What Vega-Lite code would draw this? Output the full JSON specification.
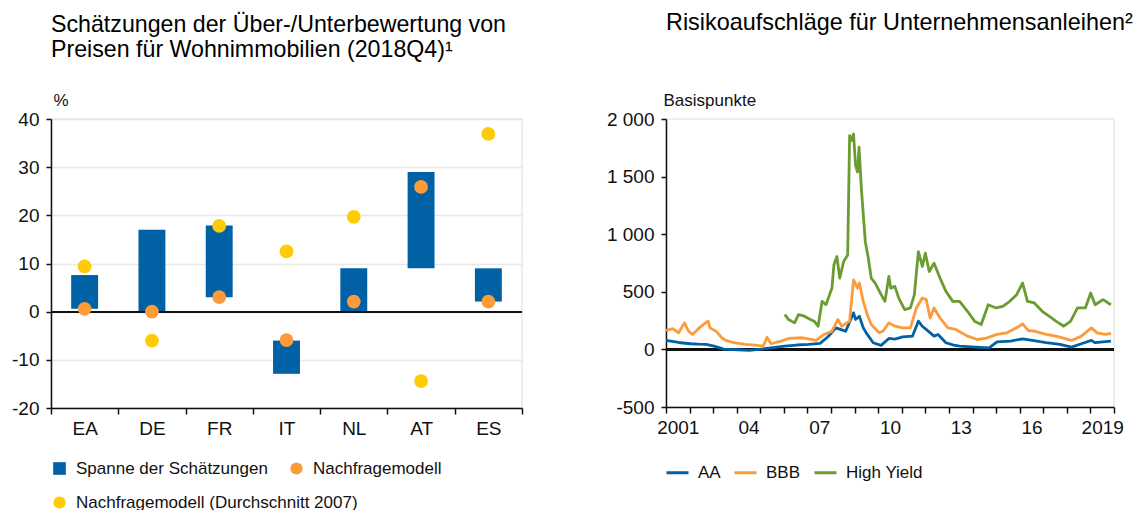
{
  "$schema": "https://vega.github.io/schema/vega-lite/v6.json",
  "padding": {"left": 10, "top": 9, "right": 0, "bottom": 0},
  "autosize": {"type": "pad"},
  "spacing": 81,
  "config": {
    "font": "Liberation Sans",
    "view": {"stroke": "#e8e8e8", "strokeWidth": 1.5},
    "axis": {
      "labelFont": "Liberation Sans", "labelFontSize": 19, "labelColor": "#111",
      "domainColor": "#111", "domainWidth": 1.5, "tickColor": "#111", "tickWidth": 1.5, "tickSize": 5,
      "gridColor": "#e8e8e8", "gridWidth": 1.5,
      "titleFont": "Liberation Sans", "titleFontSize": 17, "titleFontWeight": "normal", "titleColor": "#111"
    },
    "legend": {"labelFont": "Liberation Sans", "labelFontSize": 17, "labelColor": "#111", "labelLimit": 400},
    "title": {"font": "Liberation Sans", "fontSize": 23.2, "fontWeight": "normal", "color": "#000", "anchor": "start", "frame": "group", "lineHeight": 25}
  },
  "hconcat": [
    {
      "width": 471,
      "height": 289,
      "title": {"text": ["Schätzungen der Über-/Unterbewertung von", "Preisen für Wohnimmobilien (2018Q4)¹"], "offset": 29},
      "data": {"values": [
        {"land": "EA", "lo": 0.6, "hi": 7.6, "nm": 0.6, "nm07": 9.4},
        {"land": "DE", "lo": 0, "hi": 17.0, "nm": 0, "nm07": -6.0},
        {"land": "FR", "lo": 3.0, "hi": 17.9, "nm": 3.0, "nm07": 17.8},
        {"land": "IT", "lo": -12.9, "hi": -6.0, "nm": -5.9, "nm07": 12.5},
        {"land": "NL", "lo": 0, "hi": 9.0, "nm": 2.1, "nm07": 19.7},
        {"land": "AT", "lo": 9.0, "hi": 29.0, "nm": 25.9, "nm07": -14.4},
        {"land": "ES", "lo": 2.1, "hi": 9.0, "nm": 2.1, "nm07": 36.9}
      ]},
      "encoding": {
        "x": {"field": "land", "type": "nominal", "sort": null,
          "scale": {"paddingInner": 0, "paddingOuter": 0},
          "axis": {"title": null, "labelAngle": 0, "tickBand": "extent", "tickSize": 6, "labelPadding": 5, "grid": false}}
      },
      "layer": [
        {
          "mark": {"type": "bar", "width": {"band": 0.4}},
          "encoding": {
            "y": {"field": "lo", "type": "quantitative",
              "scale": {"domain": [-20, 40], "nice": false},
              "axis": {"values": [-20, -10, 0, 10, 20, 30, 40], "title": "%", "titleAngle": 0, "titleAlign": "left", "titleBaseline": "bottom", "titleX": 2, "titleY": -10, "labelPadding": 7, "labelExpr": "replace(format(datum.value,'d'),'−','-')"}},
            "y2": {"field": "hi"},
            "color": {"datum": "Spanne der Schätzungen", "scale": {"range": ["#0061a5"]},
              "legend": {"title": null, "orient": "none", "legendX": 0, "legendY": 341, "symbolType": "square", "symbolSize": 160, "labelOffset": 8}}
          }
        },
        {
          "mark": {"type": "rule", "color": "#111", "strokeWidth": 1.5},
          "encoding": {"y": {"datum": 0}, "x": {"value": 0}, "x2": {"value": 471}}
        },
        {
          "mark": {"type": "circle", "size": 190, "opacity": 1},
          "encoding": {
            "y": {"field": "nm07", "type": "quantitative"},
            "color": {"datum": "Nachfragemodell (Durchschnitt 2007)", "scale": {"range": ["#ffcb05"]},
              "legend": {"title": null, "orient": "none", "legendX": 0, "legendY": 375, "symbolType": "circle", "symbolSize": 150, "labelOffset": 8}}
          }
        },
        {
          "mark": {"type": "circle", "size": 190, "opacity": 1},
          "encoding": {
            "y": {"field": "nm", "type": "quantitative"},
            "color": {"datum": "Nachfragemodell", "scale": {"range": ["#fd9a3a"]},
              "legend": {"title": null, "orient": "none", "legendX": 237, "legendY": 341, "symbolType": "circle", "symbolSize": 150, "labelOffset": 8}}
          }
        }
      ],
      "resolve": {"scale": {"color": "independent"}, "legend": {"color": "independent"}}
    },
    {
      "width": 448,
      "height": 288,
      "title": {"text": "Risikoaufschläge für Unternehmensanleihen²", "offset": 56, "fontSize": 23.4},
      "data": {"values": [
        {"s": "AA", "d": "2001-01-01", "v": 78},
        {"s": "AA", "d": "2001-07-15", "v": 60},
        {"s": "AA", "d": "2002-01-15", "v": 49},
        {"s": "AA", "d": "2002-05-15", "v": 45},
        {"s": "AA", "d": "2002-09-15", "v": 43},
        {"s": "AA", "d": "2003-01-15", "v": 29},
        {"s": "AA", "d": "2003-06-15", "v": 3},
        {"s": "AA", "d": "2004-01-15", "v": -3},
        {"s": "AA", "d": "2004-07-15", "v": -9},
        {"s": "AA", "d": "2005-01-15", "v": 3},
        {"s": "AA", "d": "2005-07-15", "v": 15},
        {"s": "AA", "d": "2006-01-15", "v": 29},
        {"s": "AA", "d": "2006-07-15", "v": 38},
        {"s": "AA", "d": "2007-01-15", "v": 43},
        {"s": "AA", "d": "2007-07-15", "v": 52},
        {"s": "AA", "d": "2007-11-15", "v": 110},
        {"s": "AA", "d": "2008-03-15", "v": 187},
        {"s": "AA", "d": "2008-08-15", "v": 158},
        {"s": "AA", "d": "2008-12-15", "v": 317},
        {"s": "AA", "d": "2009-01-15", "v": 260},
        {"s": "AA", "d": "2009-03-15", "v": 288},
        {"s": "AA", "d": "2009-05-15", "v": 187},
        {"s": "AA", "d": "2009-07-15", "v": 130},
        {"s": "AA", "d": "2009-10-15", "v": 58},
        {"s": "AA", "d": "2010-02-15", "v": 35},
        {"s": "AA", "d": "2010-06-15", "v": 95},
        {"s": "AA", "d": "2010-09-15", "v": 90},
        {"s": "AA", "d": "2011-01-15", "v": 109},
        {"s": "AA", "d": "2011-06-15", "v": 115},
        {"s": "AA", "d": "2011-09-15", "v": 245},
        {"s": "AA", "d": "2011-11-15", "v": 201},
        {"s": "AA", "d": "2012-02-15", "v": 158},
        {"s": "AA", "d": "2012-05-15", "v": 115},
        {"s": "AA", "d": "2012-07-15", "v": 130},
        {"s": "AA", "d": "2012-11-15", "v": 58},
        {"s": "AA", "d": "2013-03-15", "v": 37},
        {"s": "AA", "d": "2013-06-15", "v": 29},
        {"s": "AA", "d": "2014-02-15", "v": 20},
        {"s": "AA", "d": "2014-09-15", "v": 14},
        {"s": "AA", "d": "2015-01-15", "v": 66},
        {"s": "AA", "d": "2015-08-15", "v": 72},
        {"s": "AA", "d": "2016-02-15", "v": 92},
        {"s": "AA", "d": "2016-07-15", "v": 78},
        {"s": "AA", "d": "2017-02-15", "v": 58},
        {"s": "AA", "d": "2017-09-15", "v": 43},
        {"s": "AA", "d": "2018-03-15", "v": 20},
        {"s": "AA", "d": "2018-08-15", "v": 49},
        {"s": "AA", "d": "2019-01-15", "v": 78},
        {"s": "AA", "d": "2019-03-15", "v": 58},
        {"s": "AA", "d": "2019-07-15", "v": 66},
        {"s": "AA", "d": "2019-11-15", "v": 72},
        {"s": "BBB", "d": "2001-01-01", "v": 164},
        {"s": "BBB", "d": "2001-04-15", "v": 181},
        {"s": "BBB", "d": "2001-07-15", "v": 144},
        {"s": "BBB", "d": "2001-10-15", "v": 230},
        {"s": "BBB", "d": "2001-12-15", "v": 158},
        {"s": "BBB", "d": "2002-02-15", "v": 130},
        {"s": "BBB", "d": "2002-05-15", "v": 178},
        {"s": "BBB", "d": "2002-08-15", "v": 222},
        {"s": "BBB", "d": "2002-10-15", "v": 245},
        {"s": "BBB", "d": "2002-11-15", "v": 187},
        {"s": "BBB", "d": "2003-02-15", "v": 158},
        {"s": "BBB", "d": "2003-05-15", "v": 101},
        {"s": "BBB", "d": "2003-07-15", "v": 78},
        {"s": "BBB", "d": "2003-11-15", "v": 58},
        {"s": "BBB", "d": "2004-05-15", "v": 43},
        {"s": "BBB", "d": "2004-10-15", "v": 37},
        {"s": "BBB", "d": "2005-02-15", "v": 29},
        {"s": "BBB", "d": "2005-04-15", "v": 106},
        {"s": "BBB", "d": "2005-06-15", "v": 49},
        {"s": "BBB", "d": "2005-11-15", "v": 72},
        {"s": "BBB", "d": "2006-03-15", "v": 95},
        {"s": "BBB", "d": "2006-10-15", "v": 101},
        {"s": "BBB", "d": "2007-05-15", "v": 78},
        {"s": "BBB", "d": "2007-09-15", "v": 130},
        {"s": "BBB", "d": "2008-01-15", "v": 158},
        {"s": "BBB", "d": "2008-04-15", "v": 259},
        {"s": "BBB", "d": "2008-06-15", "v": 201},
        {"s": "BBB", "d": "2008-10-15", "v": 245},
        {"s": "BBB", "d": "2008-12-15", "v": 604},
        {"s": "BBB", "d": "2009-02-15", "v": 532},
        {"s": "BBB", "d": "2009-03-15", "v": 576},
        {"s": "BBB", "d": "2009-05-15", "v": 417},
        {"s": "BBB", "d": "2009-07-15", "v": 302},
        {"s": "BBB", "d": "2009-09-15", "v": 216},
        {"s": "BBB", "d": "2010-01-15", "v": 144},
        {"s": "BBB", "d": "2010-03-15", "v": 158},
        {"s": "BBB", "d": "2010-06-15", "v": 230},
        {"s": "BBB", "d": "2010-09-15", "v": 201},
        {"s": "BBB", "d": "2011-01-15", "v": 187},
        {"s": "BBB", "d": "2011-05-15", "v": 187},
        {"s": "BBB", "d": "2011-08-15", "v": 360},
        {"s": "BBB", "d": "2011-11-15", "v": 446},
        {"s": "BBB", "d": "2012-01-15", "v": 432},
        {"s": "BBB", "d": "2012-03-15", "v": 273},
        {"s": "BBB", "d": "2012-05-15", "v": 360},
        {"s": "BBB", "d": "2012-08-15", "v": 273},
        {"s": "BBB", "d": "2012-12-15", "v": 187},
        {"s": "BBB", "d": "2013-04-15", "v": 173},
        {"s": "BBB", "d": "2013-10-15", "v": 115},
        {"s": "BBB", "d": "2014-03-15", "v": 86},
        {"s": "BBB", "d": "2014-07-15", "v": 95},
        {"s": "BBB", "d": "2015-01-15", "v": 130},
        {"s": "BBB", "d": "2015-06-15", "v": 144},
        {"s": "BBB", "d": "2015-11-15", "v": 187},
        {"s": "BBB", "d": "2016-02-15", "v": 222},
        {"s": "BBB", "d": "2016-05-15", "v": 164},
        {"s": "BBB", "d": "2016-08-15", "v": 158},
        {"s": "BBB", "d": "2017-02-15", "v": 130},
        {"s": "BBB", "d": "2017-07-15", "v": 115},
        {"s": "BBB", "d": "2018-03-15", "v": 78},
        {"s": "BBB", "d": "2018-08-15", "v": 115},
        {"s": "BBB", "d": "2019-01-15", "v": 187},
        {"s": "BBB", "d": "2019-04-15", "v": 144},
        {"s": "BBB", "d": "2019-08-15", "v": 130},
        {"s": "BBB", "d": "2019-11-15", "v": 138},
        {"s": "High Yield", "d": "2006-01-15", "v": 302},
        {"s": "High Yield", "d": "2006-03-15", "v": 259},
        {"s": "High Yield", "d": "2006-06-15", "v": 230},
        {"s": "High Yield", "d": "2006-08-15", "v": 302},
        {"s": "High Yield", "d": "2006-11-15", "v": 288},
        {"s": "High Yield", "d": "2007-02-15", "v": 259},
        {"s": "High Yield", "d": "2007-04-15", "v": 245},
        {"s": "High Yield", "d": "2007-06-15", "v": 201},
        {"s": "High Yield", "d": "2007-08-15", "v": 417},
        {"s": "High Yield", "d": "2007-10-15", "v": 388},
        {"s": "High Yield", "d": "2008-01-15", "v": 532},
        {"s": "High Yield", "d": "2008-02-15", "v": 734},
        {"s": "High Yield", "d": "2008-04-01", "v": 806},
        {"s": "High Yield", "d": "2008-05-15", "v": 619},
        {"s": "High Yield", "d": "2008-07-15", "v": 763},
        {"s": "High Yield", "d": "2008-09-15", "v": 820},
        {"s": "High Yield", "d": "2008-10-15", "v": 1856},
        {"s": "High Yield", "d": "2008-11-15", "v": 1813},
        {"s": "High Yield", "d": "2008-12-15", "v": 1870},
        {"s": "High Yield", "d": "2009-01-15", "v": 1597},
        {"s": "High Yield", "d": "2009-02-15", "v": 1540},
        {"s": "High Yield", "d": "2009-03-10", "v": 1756},
        {"s": "High Yield", "d": "2009-04-15", "v": 1396},
        {"s": "High Yield", "d": "2009-06-15", "v": 935},
        {"s": "High Yield", "d": "2009-08-01", "v": 791},
        {"s": "High Yield", "d": "2009-09-15", "v": 619},
        {"s": "High Yield", "d": "2009-11-15", "v": 576},
        {"s": "High Yield", "d": "2010-02-15", "v": 475},
        {"s": "High Yield", "d": "2010-04-15", "v": 417},
        {"s": "High Yield", "d": "2010-06-15", "v": 633},
        {"s": "High Yield", "d": "2010-07-15", "v": 532},
        {"s": "High Yield", "d": "2010-09-15", "v": 547},
        {"s": "High Yield", "d": "2010-11-15", "v": 446},
        {"s": "High Yield", "d": "2011-02-15", "v": 345},
        {"s": "High Yield", "d": "2011-05-15", "v": 360},
        {"s": "High Yield", "d": "2011-07-15", "v": 475},
        {"s": "High Yield", "d": "2011-09-15", "v": 849},
        {"s": "High Yield", "d": "2011-11-15", "v": 720},
        {"s": "High Yield", "d": "2012-01-01", "v": 835},
        {"s": "High Yield", "d": "2012-03-01", "v": 676},
        {"s": "High Yield", "d": "2012-05-15", "v": 748},
        {"s": "High Yield", "d": "2012-08-15", "v": 619},
        {"s": "High Yield", "d": "2012-11-15", "v": 504},
        {"s": "High Yield", "d": "2013-03-01", "v": 417},
        {"s": "High Yield", "d": "2013-06-15", "v": 417},
        {"s": "High Yield", "d": "2013-10-15", "v": 331},
        {"s": "High Yield", "d": "2014-02-01", "v": 245},
        {"s": "High Yield", "d": "2014-05-15", "v": 216},
        {"s": "High Yield", "d": "2014-09-01", "v": 388},
        {"s": "High Yield", "d": "2015-01-01", "v": 360},
        {"s": "High Yield", "d": "2015-04-15", "v": 374},
        {"s": "High Yield", "d": "2015-08-01", "v": 417},
        {"s": "High Yield", "d": "2015-11-15", "v": 475},
        {"s": "High Yield", "d": "2016-02-15", "v": 576},
        {"s": "High Yield", "d": "2016-05-01", "v": 417},
        {"s": "High Yield", "d": "2016-08-15", "v": 403},
        {"s": "High Yield", "d": "2016-12-15", "v": 331},
        {"s": "High Yield", "d": "2017-04-01", "v": 288},
        {"s": "High Yield", "d": "2017-07-15", "v": 245},
        {"s": "High Yield", "d": "2017-11-15", "v": 201},
        {"s": "High Yield", "d": "2018-03-01", "v": 245},
        {"s": "High Yield", "d": "2018-06-15", "v": 360},
        {"s": "High Yield", "d": "2018-10-15", "v": 360},
        {"s": "High Yield", "d": "2019-01-05", "v": 489},
        {"s": "High Yield", "d": "2019-03-15", "v": 388},
        {"s": "High Yield", "d": "2019-07-15", "v": 432},
        {"s": "High Yield", "d": "2019-11-15", "v": 388}
      ]},
      "layer": [
        {
          "mark": {"type": "rule", "color": "#111", "strokeWidth": 1.5},
          "encoding": {"y": {"datum": 0, "type": "quantitative"}}
        },
        {
          "mark": {"type": "line", "strokeWidth": 2.8, "strokeJoin": "round"},
          "encoding": {
            "x": {"field": "d", "type": "temporal",
              "scale": {"type": "utc", "domain": [{"year": 2001, "month": 1, "date": 1, "utc": true}, {"year": 2020, "month": 1, "date": 1, "utc": true}]},
              "axis": {"title": null, "grid": false, "tickCount": {"interval": "year", "step": 1}, "tickSize": 6, "labelPadding": 5, "labelFlush": false, "labelOverlap": false, "labelOffset": 11.8,
                "labelExpr": "utcyear(datum.value)==2001 || utcyear(datum.value)==2019 ? '' + utcyear(datum.value) : ((utcyear(datum.value)-2001)%3==0 && utcyear(datum.value)<2019 ? slice('' + utcyear(datum.value), 2) : '')"}},
            "y": {"field": "v", "type": "quantitative",
              "scale": {"domain": [-500, 2000], "nice": false},
              "axis": {"values": [-500, 0, 500, 1000, 1500, 2000], "title": "Basispunkte", "titleAngle": 0, "titleAlign": "left", "titleBaseline": "bottom", "titleX": -3, "titleY": -10, "labelPadding": 7,
                "labelExpr": "replace(replace(format(datum.value, ','), ',', ' '), '−', '-')"}},
            "color": {"field": "s", "type": "nominal",
              "scale": {"domain": ["AA", "BBB", "High Yield"], "range": ["#0061a5", "#fd9a3a", "#6a9c32"]},
              "legend": {"title": null, "orient": "none", "direction": "horizontal", "legendX": 614, "legendY": 341, "symbolType": "stroke", "symbolSize": 484, "symbolStrokeWidth": 3, "labelOffset": 8, "columnPadding": 7}}
          }
        }
      ]
    }
  ]
}
